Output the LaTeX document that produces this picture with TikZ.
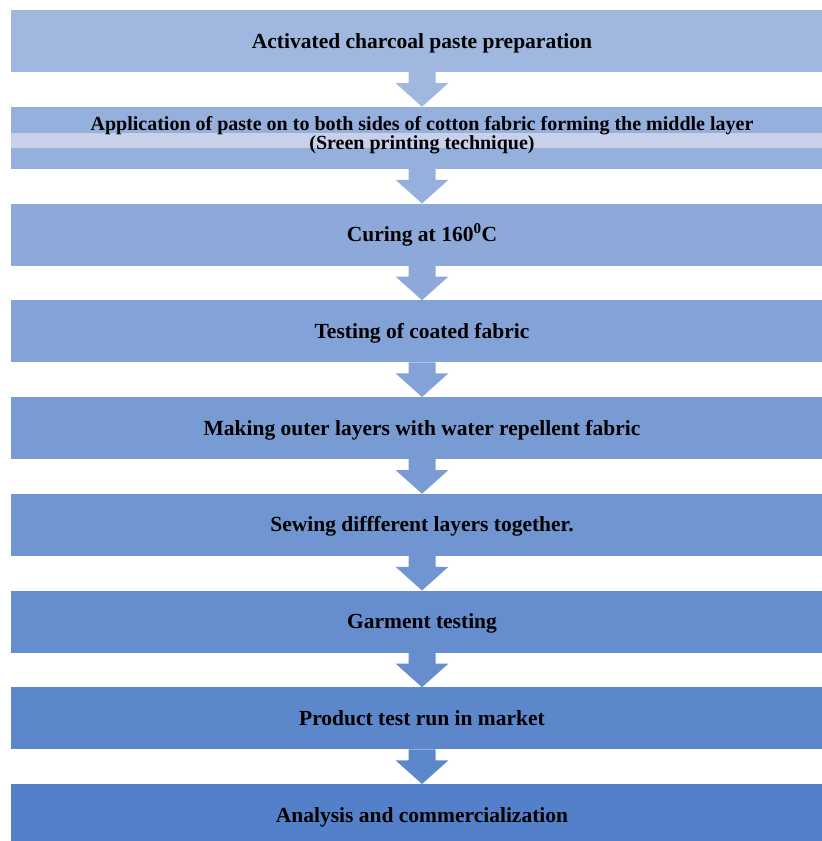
\documentclass[tikz,border=0pt]{standalone}
\usepackage{fontspec}
\setmainfont{Liberation Serif}
\usetikzlibrary{calc}
\definecolor{cA}{HTML}{A0B7E0}
\definecolor{cB}{HTML}{5380C8}
\definecolor{stripc}{HTML}{C8D0EA}
\colorlet{c1}{cA}
\colorlet{c2}{cB!12.5!cA}
\colorlet{c3}{cB!25!cA}
\colorlet{c4}{cB!37.5!cA}
\colorlet{c5}{cB!50!cA}
\colorlet{c6}{cB!62.5!cA}
\colorlet{c7}{cB!75!cA}
\colorlet{c8}{cB!87.5!cA}
\colorlet{c9}{cB}
\newcommand\blockarrow[3]{%
  \fill[#3] ($(#1.south)+(-13.5,0)$) -- ($(#1.south)+(13.5,0)$) -- ($(#1.south)+(13.5,11)$)
    -- ($(#1.south)+(26.5,11)$) -- (#2.north) -- ($(#1.south)+(-26.5,11)$)
    -- ($(#1.south)+(-13.5,11)$) -- cycle;}
\begin{document}
\begin{tikzpicture}[x=1pt,y=-1pt,
  box/.style={minimum width=822pt,minimum height=62pt,inner sep=0pt,outer sep=0pt,
    text height=14pt,text depth=0pt,
    anchor=north west,font=\fontsize{21.5}{24}\selectfont\bfseries,text=black},
  smalltext/.style={font=\fontsize{20}{19}\selectfont\bfseries,align=center,inner sep=0pt,text=black}]
\useasboundingbox (0,0) rectangle (822,841);
\clip (0,0) rectangle (822,841);
\node[box,fill=c1] (b1) at (11,10) {Activated charcoal paste preparation};
\node[box,fill=c2,text height=0pt] (b2) at (11,106.75) {};
\fill[stripc] (11,133) rectangle (833,148);
\node[smalltext] (t2) at ($(b2.center)+(0,-2.5)$) {Application of paste on to both sides of cotton fabric forming the middle layer\\(Sreen printing technique)};
\node[box,fill=c3] (b3) at (11,203.5) {Curing at 160\textsuperscript{0}C};
\node[box,fill=c4] (b4) at (11,300.25) {Testing of coated fabric};
\node[box,fill=c5] (b5) at (11,397) {Making outer layers with water repellent fabric};
\node[box,fill=c6] (b6) at (11,493.75) {Sewing diffferent layers together.};
\node[box,fill=c7] (b7) at (11,590.5) {Garment testing};
\node[box,fill=c8] (b8) at (11,687.25) {Product test run in market};
\node[box,fill=c9] (b9) at (11,784) {Analysis and commercialization};
\blockarrow{b1}{b2}{c1}
\blockarrow{b2}{b3}{c2}
\blockarrow{b3}{b4}{c3}
\blockarrow{b4}{b5}{c4}
\blockarrow{b5}{b6}{c5}
\blockarrow{b6}{b7}{c6}
\blockarrow{b7}{b8}{c7}
\blockarrow{b8}{b9}{c8}
\end{tikzpicture}
\end{document}
